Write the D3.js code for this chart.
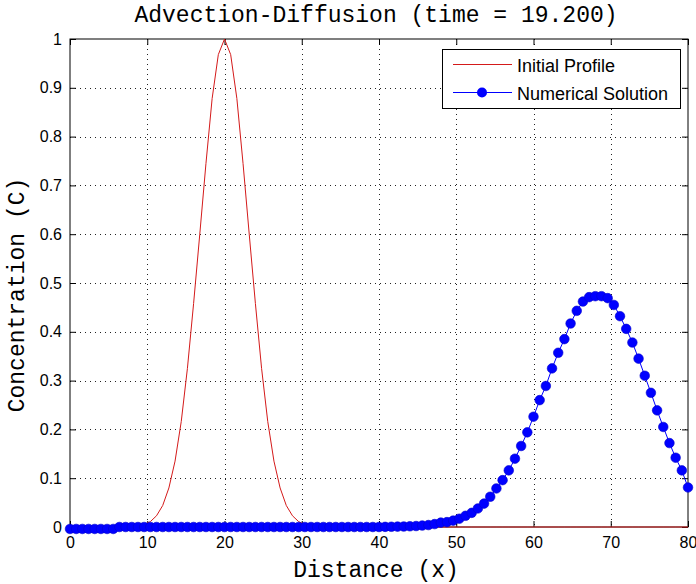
<!DOCTYPE html>
<html>
<head>
<meta charset="utf-8">
<script src="https://cdn.jsdelivr.net/npm/d3@7/dist/d3.min.js"></script>
<style>
  body { margin: 0; background: #fff; }
  text { fill: #000; }
</style>
</head>
<body>
<svg id="chart" width="696" height="584"></svg>
<script>
// [A] Datos ------------------------------------------------------------------
const titleText = "Advection-Diffusion (time = 19.200)";
const xLabel = "Distance (x)";
const yLabel = "Concentration (C)";
const seriesNames = ["Initial Profile", "Numerical Solution"];
const xTicks = [0, 10, 20, 30, 40, 50, 60, 70, 80];
const yTicks = [0, 0.1, 0.2, 0.3, 0.4, 0.5, 0.6, 0.7, 0.8, 0.9, 1];

// malla de 101 nodos, dx = 0.8
const distance = d3.range(101).map(i => +(i * 0.8).toFixed(1));

// perfil inicial (rojo)
const initialProfile = [
  0, 0, 0, 0, 0, 0, 0, 0, 0, 0,
  0.001, 0.002, 0.005, 0.011, 0.023, 0.044, 0.080, 0.135, 0.216, 0.325,
  0.458, 0.600, 0.745, 0.878, 0.968, 1.000, 0.968, 0.878, 0.745, 0.600,
  0.458, 0.325, 0.216, 0.135, 0.080, 0.044, 0.023, 0.011, 0.005, 0.002,
  0.001, 0, 0, 0, 0, 0, 0, 0, 0, 0,
  0, 0, 0, 0, 0, 0, 0, 0, 0, 0,
  0, 0, 0, 0, 0, 0, 0, 0, 0, 0,
  0, 0, 0, 0, 0, 0, 0, 0, 0, 0,
  0, 0, 0, 0, 0, 0, 0, 0, 0, 0,
  0, 0, 0, 0, 0, 0, 0, 0, 0, 0,
  0
];

// solucion numerica (azul)
const numericalSolution = [
  -0.004, -0.004, -0.004, -0.004, -0.004, -0.004, -0.004, -0.004, 0, 0,
  0, 0, 0, 0, 0, 0, 0, 0, 0, 0,
  0, 0, 0, 0, 0, 0, 0, 0, 0, 0,
  0, 0, 0, 0, 0, 0, 0, 0, 0, 0,
  0, 0, 0, 0, 0, 0, 0, 0, 0, 0,
  0, 0.0003, 0.0005, 0.0008, 0.001, 0.0015, 0.002, 0.003, 0.004, 0.006,
  0.009, 0.010, 0.013, 0.017, 0.023, 0.029, 0.038, 0.048, 0.062, 0.079,
  0.096, 0.116, 0.140, 0.166, 0.194, 0.226, 0.260, 0.289, 0.325, 0.357,
  0.385, 0.417, 0.443, 0.462, 0.471, 0.473, 0.473, 0.469, 0.455, 0.432,
  0.406, 0.378, 0.345, 0.310, 0.275, 0.239, 0.205, 0.172, 0.142, 0.116,
  0.081
];

// [B] Configuracion ----------------------------------------------------------
const width = 696, height = 584;
const margin = { top: 39, right: 8, bottom: 57, left: 70 };
const red = "#d41a1a", blue = "#0000ff";
const sans = "'Liberation Sans', Arial, sans-serif";
const mono = "'Liberation Mono', 'Courier New', monospace";

const svg = d3.select("#chart");

const x = d3.scaleLinear().domain([0, 80]).range([margin.left, width - margin.right]);
const y = d3.scaleLinear().domain([0, 1]).range([height - margin.bottom, margin.top]);

// [C] Cuadricula punteada ----------------------------------------------------
const grid = svg.append("g").attr("stroke", "#222").attr("stroke-width", 1)
  .attr("stroke-dasharray", "1,4");
grid.selectAll(".gx").data(xTicks.slice(1, -1)).join("line")
  .attr("x1", d => Math.round(x(d)) + 0.5).attr("x2", d => Math.round(x(d)) + 0.5)
  .attr("y1", y(1)).attr("y2", y(0));
grid.selectAll(".gy").data(yTicks.slice(1, -1)).join("line")
  .attr("y1", d => Math.round(y(d)) + 0.5).attr("y2", d => Math.round(y(d)) + 0.5)
  .attr("x1", x(0)).attr("x2", x(80));

// [D] Ejes -------------------------------------------------------------------
function styleAxis(g) {
  g.select(".domain").remove();
  g.selectAll("line").attr("stroke", "#000");
  g.selectAll("text").attr("font-family", sans).attr("font-size", 16).attr("fill", "#000");
}
svg.append("g").attr("transform", `translate(0,${y(0)})`)
  .call(d3.axisBottom(x).tickValues(xTicks).tickSize(-6).tickPadding(10).tickFormat(d3.format("d")))
  .call(styleAxis);
svg.append("g").attr("transform", `translate(${x(0)},0)`)
  .call(d3.axisLeft(y).tickValues(yTicks).tickSize(-6).tickPadding(8).tickFormat(d => d))
  .call(styleAxis);
svg.append("g").attr("transform", `translate(0,${y(1)})`)
  .call(d3.axisTop(x).tickValues(xTicks).tickSize(-6).tickFormat(""))
  .call(styleAxis);
svg.append("g").attr("transform", `translate(${x(80)},0)`)
  .call(d3.axisRight(y).tickValues(yTicks).tickSize(-6).tickFormat(""))
  .call(styleAxis);

svg.append("rect")
  .attr("x", x(0)).attr("y", y(1))
  .attr("width", x(80) - x(0)).attr("height", y(0) - y(1))
  .attr("fill", "none").attr("stroke", "#000").attr("stroke-width", 1);

// [E] Series -----------------------------------------------------------------
const line = d3.line().x((d, i) => x(distance[i])).y(d => y(d));

svg.append("path").datum(initialProfile)
  .attr("d", line).attr("fill", "none").attr("stroke", red).attr("stroke-width", 1);

svg.append("path").datum(numericalSolution)
  .attr("d", line).attr("fill", "none").attr("stroke", blue).attr("stroke-width", 1);

svg.selectAll(".pt").data(numericalSolution).join("circle")
  .attr("class", "pt")
  .attr("cx", (d, i) => x(distance[i])).attr("cy", d => y(d))
  .attr("r", 4.8).attr("fill", blue).attr("stroke", "#0000cc").attr("stroke-width", 0.6);

// [F] Titulos ----------------------------------------------------------------
svg.append("text").attr("x", 376).attr("y", 22).attr("text-anchor", "middle")
  .attr("font-family", mono).attr("font-size", 23).text(titleText);
svg.append("text").attr("x", 376).attr("y", 577).attr("text-anchor", "middle")
  .attr("font-family", mono).attr("font-size", 23).text(xLabel);
svg.append("text").attr("transform", "translate(24,295) rotate(-90)").attr("text-anchor", "middle")
  .attr("font-family", mono).attr("font-size", 23).text(yLabel);

// [G] Leyenda ----------------------------------------------------------------
const legend = svg.append("g");
legend.append("rect").attr("x", 442.5).attr("y", 49.5).attr("width", 238).attr("height", 59)
  .attr("fill", "#fff").attr("stroke", "#000");
const rows = [
  { name: seriesNames[0], color: red, marker: false, yy: 64.5 },
  { name: seriesNames[1], color: blue, marker: true, yy: 92.5 }
];
rows.forEach(r => {
  legend.append("line").attr("x1", 453).attr("x2", 512).attr("y1", r.yy).attr("y2", r.yy)
    .attr("stroke", r.color).attr("stroke-width", 1);
  if (r.marker) {
    legend.append("circle").attr("cx", 482).attr("cy", r.yy).attr("r", 5).attr("fill", blue);
  }
  legend.append("text").attr("x", 517).attr("y", r.yy + 7)
    .attr("font-family", sans).attr("font-size", 18).text(r.name);
});
</script>
</body>
</html>
